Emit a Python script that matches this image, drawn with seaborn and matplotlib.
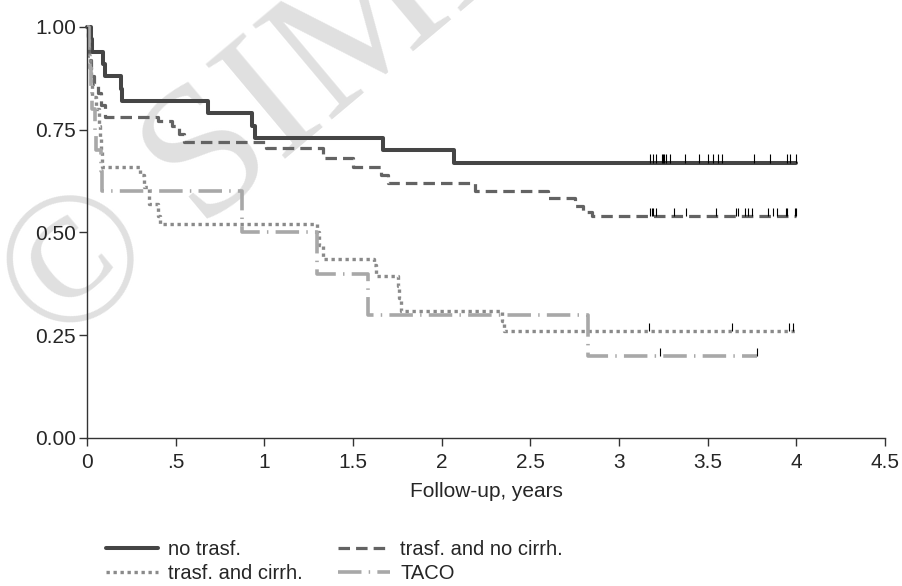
import matplotlib
matplotlib.use("Agg")
import matplotlib.pyplot as plt
import numpy as np
import pandas as pd
import seaborn as sns

# Kaplan-Meier steps: (time in years, survival after the step)
notrasf_t = [0, 0.02, 0.03, 0.09, 0.10, 0.19, 0.20, 0.68, 0.93, 0.95, 1.67, 2.07, 4.0]
notrasf_s = [1.0, 0.97, 0.94, 0.91, 0.88, 0.85, 0.82, 0.79, 0.76, 0.73, 0.70, 0.67, 0.67]
notrasf_cens = [3.175, 3.19, 3.21, 3.24, 3.25, 3.255, 3.265, 3.29, 3.37, 3.45,
                3.50, 3.53, 3.56, 3.58, 3.76, 3.85, 3.95, 3.965, 4.0]

nocirrh_t = [0, 0.005, 0.01, 0.02, 0.04, 0.06, 0.08, 0.10, 0.40, 0.48, 0.52, 0.55,
             1.01, 1.33, 1.50, 1.66, 1.70, 2.19, 2.60, 2.75, 2.80, 2.85, 4.0]
nocirrh_s = [1.0, 0.96, 0.92, 0.88, 0.86, 0.84, 0.81, 0.78, 0.77, 0.76, 0.74, 0.72,
             0.705, 0.68, 0.66, 0.64, 0.62, 0.60, 0.585, 0.565, 0.55, 0.54, 0.54]
nocirrh_cens = [3.175, 3.187, 3.19, 3.21, 3.31, 3.38, 3.55, 3.66, 3.67, 3.71,
                3.73, 3.75, 3.84, 3.87, 3.89, 3.94, 3.95, 3.99, 4.0]

cirrh_t = [0, 0.005, 0.01, 0.015, 0.02, 0.03, 0.05, 0.07, 0.075, 0.08, 0.085, 0.30,
           0.32, 0.35, 0.40, 0.41, 1.30, 1.31, 1.33, 1.35, 1.62, 1.63, 1.755, 1.76,
           1.77, 2.34, 2.35, 4.0]
cirrh_s = [1.0, 0.97, 0.93, 0.90, 0.86, 0.83, 0.80, 0.76, 0.73, 0.70, 0.66, 0.64,
           0.61, 0.57, 0.54, 0.52, 0.50, 0.47, 0.435, 0.435, 0.42, 0.395, 0.37, 0.34,
           0.31, 0.285, 0.26, 0.26]
cirrh_cens = [3.17, 3.64, 3.96, 3.98]

taco_t = [0, 0.01, 0.015, 0.02, 0.03, 0.045, 0.05, 0.08, 0.085, 0.874, 1.30, 1.585,
          2.826, 3.78]
taco_s = [1.0, 0.95, 0.90, 0.85, 0.80, 0.75, 0.70, 0.65, 0.60, 0.50, 0.40, 0.30,
          0.20, 0.20]
taco_cens = [3.23, 3.78]

labels = ["no trasf.", "trasf. and no cirrh.", "trasf. and cirrh.", "TACO"]
x_ticks = [0, 0.5, 1, 1.5, 2, 2.5, 3, 3.5, 4, 4.5]
x_ticklabels = ["0", ".5", "1", "1.5", "2", "2.5", "3", "3.5", "4", "4.5"]
y_ticks = [0, 0.25, 0.5, 0.75, 1.0]
y_ticklabels = ["0.00", "0.25", "0.50", "0.75", "1.00"]

curves = [
    (notrasf_t, notrasf_s, notrasf_cens, "#454545", 2.9, "-"),
    (nocirrh_t, nocirrh_s, nocirrh_cens, "#636363", 2.3, (0, (3.6, 1.9))),
    (cirrh_t, cirrh_s, cirrh_cens, "#8a8a8a", 2.4, (0, (1.0, 1.1))),
    (taco_t, taco_s, taco_cens, "#a8a8a8", 2.6, (0, (6.5, 2.0, 0.4, 2.0))),
]

sns.set_style("ticks")
plt.rcParams["font.family"] = ["Liberation Sans Narrow", "Liberation Sans", "DejaVu Sans"]

fig = plt.figure(figsize=(9.03, 5.86), dpi=100)
ax = fig.add_axes([0.0963, 0.2526, 0.8837, 0.7014])

# faint watermark behind everything
fig.text(0.062, 0.40, "© SIMI", rotation=40, rotation_mode="anchor",
         ha="left", va="baseline", fontsize=135, color="#e0e0e0",
         family=["Liberation Serif", "DejaVu Serif"], zorder=-5)
ax.patch.set_alpha(0)

handles = []
for (t, s, cens, color, lw, ls), lab in zip(curves, labels):
    df = pd.DataFrame({"t": t, "s": s})
    sns.lineplot(data=df, x="t", y="s", ax=ax, color=color, linewidth=lw,
                 linestyle=ls, drawstyle="steps-post", estimator=None,
                 sort=False, label=lab, legend=False, clip_on=False)
    handles.append(ax.lines[-1])
    # censoring ticks sit on the curve
    tt = np.asarray(t)
    ss = np.asarray(s)
    cy = [ss[np.searchsorted(tt, c, side="right") - 1] for c in cens]
    ax.vlines(cens, cy, np.array(cy) + 0.02, colors="black", linewidth=0.8, zorder=5)

ax.set_xlim(0, 4.5)
ax.set_ylim(0, 1.0)
ax.set_xticks(x_ticks)
ax.set_xticklabels(x_ticklabels)
ax.set_yticks(y_ticks)
ax.set_yticklabels(y_ticklabels)
ax.tick_params(labelsize=15, length=6, width=1, color="#333333")
ax.tick_params(axis="x", pad=5)
ax.tick_params(axis="y", pad=2)
ax.set_xlabel("Follow-up, years", fontsize=15, labelpad=7)
ax.set_ylabel("")
sns.despine(ax=ax)
for sp in ["left", "bottom"]:
    ax.spines[sp].set_color("#333333")
    ax.spines[sp].set_linewidth(1)

fig.legend([handles[i] for i in [0, 2, 1, 3]], [labels[i] for i in [0, 2, 1, 3]],
           loc="upper left", bbox_to_anchor=(0.108, 0.092), ncol=2, frameon=False,
           fontsize=14.5, handlelength=2.6, handletextpad=0.5, columnspacing=1.75,
           labelspacing=0.25, borderaxespad=0)

fig.savefig("out.png", dpi=100)
